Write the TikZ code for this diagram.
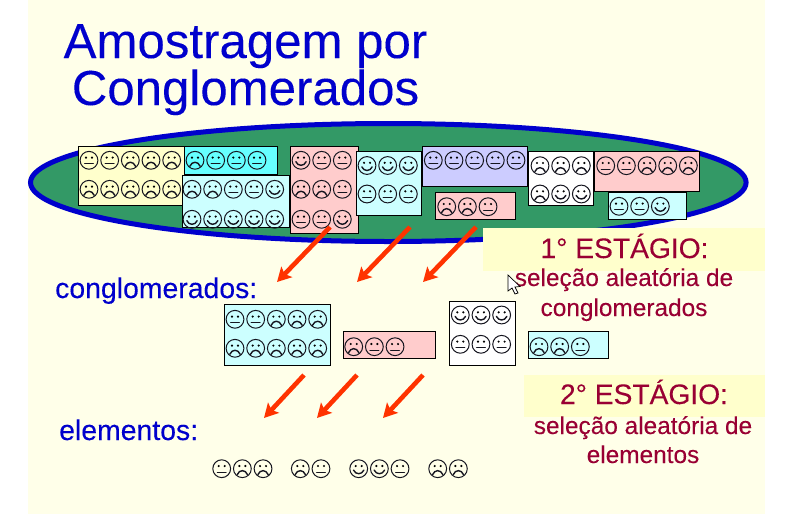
\documentclass[tikz,border=0pt]{standalone}
\usepackage{fontspec}
\setmainfont{Liberation Sans}[FakeBold=0.12]
\usetikzlibrary{arrows.meta}
\definecolor{bgcream}{HTML}{FFFFE9}
\definecolor{hilite}{HTML}{FFFFCC}
\definecolor{titleblue}{HTML}{0000CC}
\definecolor{stagered}{HTML}{990033}
\definecolor{fieldgreen}{HTML}{339966}
\definecolor{arrowred}{HTML}{FF3300}
\definecolor{cyanlight}{HTML}{CCFFFF}
\definecolor{cyanstrong}{HTML}{66FFFF}
\definecolor{pinkbox}{HTML}{FFCCCC}
\definecolor{lavbox}{HTML}{CCCCFF}
\definecolor{yelbox}{HTML}{FFFFCC}
\definecolor{faceline}{HTML}{15151F}
\tikzset{
  x=1pt,y=-1pt,
  clusterbox/.style={draw=black,line width=0.9pt,inner sep=0pt,outer sep=0pt},
  titletext/.style={text=titleblue,font=\fontsize{49.2}{49.2}\selectfont,anchor=base,inner sep=0pt},
  bluelabel/.style={text=titleblue,font=\fontsize{28.4}{28.4}\selectfont,anchor=base west,inner sep=0pt},
  stagetitle/.style={text=stagered,font=\fontsize{28.2}{28.2}\selectfont,anchor=base,inner sep=0pt},
  stagetext/.style={text=stagered,font=\fontsize{24.4}{24.4}\selectfont,anchor=base,inner sep=0pt},
  redarrow/.style={draw=arrowred,line width=4.6pt,-{Stealth[length=14pt,width=15pt,inset=3pt]}},
  faceshape/.style={draw=faceline,line width=1pt,line cap=round},
}
% one face: centre x, centre y, kind (s, n, f)
\newcommand{\oneface}[3]{%
  \begin{scope}[shift={(#1,#2)}]
    \draw[faceshape] (0,0) circle[radius=8.9];
    \fill[black] (-3,-2.7) circle[radius=1.2] (3,-2.7) circle[radius=1.2];
    \ifx#3s\draw[faceshape,line width=1.4pt] (-5.2,1.4) .. controls (-3,6.2) and (3,6.2) .. (5.2,1.4);\fi
    \ifx#3n\draw[faceshape,line width=1.2pt] (-4.4,3.4) -- (4.4,3.4);\fi
    \ifx#3f\draw[faceshape,line width=1.4pt] (-5.2,6) .. controls (-3,0.6) and (3,0.6) .. (5.2,6);\fi
  \end{scope}}
% a row of faces: first centre x, y, comma list of kinds
\newcommand{\facerow}[3]{%
  \foreach \k [count=\i from 0] in {#3}{%
    \pgfmathsetmacro{\fx}{#1+20.67*\i}%
    \edef\tmp{\noexpand\oneface{\fx}{#2}{\k}}\tmp}}
\begin{document}
\begin{tikzpicture}
\useasboundingbox (0,0) rectangle (794,514);
\fill[white] (0,0) rectangle (794,514);
\fill[bgcream] (28,0) rectangle (765,514);
% title
\node[titletext] (t1) at (245.5,58) {Amostragem por};
\node[titletext] (t2) at (245.5,105) {Conglomerados};
% population ellipse
\draw[draw=titleblue,fill=fieldgreen,line width=5pt] (388.3,182.5) ellipse[x radius=357.8,y radius=59];
% upper clusters
\node[clusterbox,fill=yelbox,minimum width=106pt,minimum height=59pt] (c1) at (131.5,176) {};
\node[clusterbox,fill=cyanstrong,minimum width=93pt,minimum height=28pt] (c2) at (231,160.5) {};
\node[clusterbox,fill=cyanlight,minimum width=107pt,minimum height=52pt] (c3) at (236,201.5) {};
\node[clusterbox,fill=pinkbox,minimum width=68pt,minimum height=87pt] (c4) at (324.5,190) {};
\node[clusterbox,fill=cyanlight,minimum width=65pt,minimum height=64pt] (c5) at (389,183.5) {};
\node[clusterbox,fill=lavbox,minimum width=105pt,minimum height=40pt] (c6) at (475,166.5) {};
\node[clusterbox,fill=pinkbox,minimum width=80pt,minimum height=27pt] (c7) at (475.5,206) {};
\node[clusterbox,fill=white,minimum width=65pt,minimum height=54pt] (c8) at (561,178.5) {};
\node[clusterbox,fill=pinkbox,minimum width=105pt,minimum height=40pt] (c9) at (647,171.5) {};
\node[clusterbox,fill=cyanlight,minimum width=78pt,minimum height=27pt] (c10) at (647.5,206) {};
\facerow{89}{160.3}{n,n,f,f,f}
\facerow{89}{189.3}{f,f,f,f,f}
\facerow{195}{160.3}{f,n,n,n}
\facerow{192}{189.3}{f,f,n,n,s}
\facerow{192}{219.3}{s,s,s,s,s}
\facerow{301}{160.3}{s,n,n}
\facerow{301}{189.3}{f,f,n}
\facerow{301}{219.3}{n,n,s}
\facerow{367}{165.5}{s,s,s}
\facerow{367}{194}{n,n,n}
\facerow{433.3}{160.3}{n,n,n,n,n}
\facerow{446.7}{206.7}{f,f,n}
\facerow{540}{165.7}{f,f,f}
\facerow{540}{194}{f,s,s}
\facerow{605.7}{165.7}{n,n,f,f,f}
\facerow{619}{206.3}{n,n,s}
% stage 1
\fill[hilite] (483,228) rectangle (765,271);
\node[stagetitle] (s1) at (624.5,258) {1° ESTÁGIO:};
\node[stagetext] (s1a) at (624,286) {seleção aleatória de};
\node[stagetext] (s1b) at (624,316) {conglomerados};
% labels
\node[bluelabel] (lc) at (55,298) {conglomerados:};
\node[bluelabel] (le) at (59,440) {elementos:};
% sampled clusters
\node[clusterbox,fill=cyanlight,minimum width=106pt,minimum height=61pt] (d1) at (277.5,335) {};
\node[clusterbox,fill=pinkbox,minimum width=92pt,minimum height=27pt] (d2) at (389.5,345) {};
\node[clusterbox,fill=white,minimum width=66pt,minimum height=64pt] (d3) at (482.5,333.5) {};
\node[clusterbox,fill=cyanlight,minimum width=80pt,minimum height=27pt] (d4) at (568.5,345) {};
\facerow{235}{319.3}{n,n,f,f,f}
\facerow{235}{348.3}{f,f,f,f,f}
\facerow{353.7}{346.7}{f,n,n}
\facerow{460.3}{315}{s,s,s}
\facerow{460.3}{344.3}{n,n,n}
\facerow{539}{346.7}{f,f,n}
% stage 2
\fill[hilite] (524,375) rectangle (765,417);
\node[stagetitle] (s2) at (644,404) {2° ESTÁGIO:};
\node[stagetext] (s2a) at (643,434) {seleção aleatória de};
\node[stagetext] (s2b) at (643,463) {elementos};
% elements
\facerow{221.7}{468.7}{n,f,f}
\facerow{300.3}{468.7}{f,n}
\facerow{358.7}{468.7}{s,s,n}
\facerow{437.7}{468.7}{f,f}
% arrows
\coordinate (a1s) at (330,227); \coordinate (a1e) at (277,282);
\coordinate (a2s) at (410,227); \coordinate (a2e) at (357,282);
\coordinate (a3s) at (476,227); \coordinate (a3e) at (423,282);
\coordinate (b1s) at (304,375); \coordinate (b1e) at (264,418);
\coordinate (b2s) at (357,375); \coordinate (b2e) at (317,418);
\coordinate (b3s) at (423,375); \coordinate (b3e) at (383,418);
\foreach \p in {a1,a2,a3,b1,b2,b3}{\draw[redarrow] (\p s) -- (\p e);}
% pointer
\draw[fill=white,draw=black,line width=0.7pt] (508,275) -- (508,291) -- (512,288) -- (515,294) -- (518,293) -- (515,287) -- (520,286.5) -- cycle;
\end{tikzpicture}
\end{document}
